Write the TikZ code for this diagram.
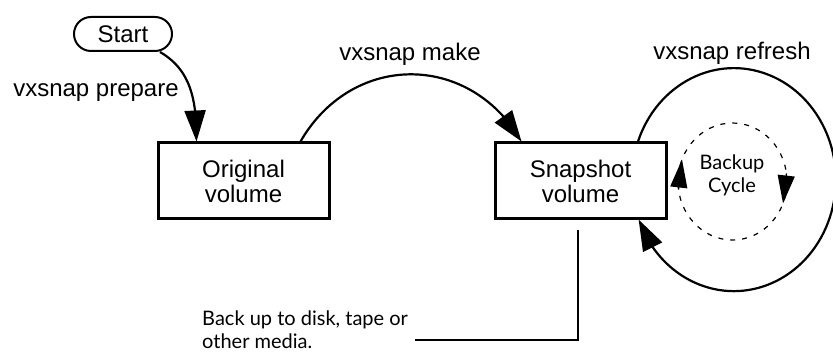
\documentclass[tikz,border=0pt]{standalone}
\usepackage{fontspec}
\setmainfont{Liberation Sans}
\newfontfamily\notefont{Lato}
\usetikzlibrary{
    arrows.meta,
    positioning,
    calc,
    bending
}
\tikzset{
    % --- Volume box (original / snapshot) ---
    volume/.style = {
        rectangle, draw, line width=3pt,
        minimum width=171pt, minimum height=76pt,
        font=\fontsize{24}{25}\selectfont, align=center
    },
    % --- Rounded start terminal ---
    terminal/.style = {
        rectangle, draw, line width=2pt, rounded corners=17pt,
        minimum width=98pt, minimum height=34pt,
        font=\fontsize{24}{26}\selectfont
    },
    % --- Command label ---
    cmd/.style = {
        font=\fontsize{24}{26}\selectfont, inner sep=0pt
    },
    % --- Note text (cycle, media) ---
    note/.style = {
        font=\notefont\fontsize{20}{23}\selectfont,
        align=left, inner sep=0pt
    },
    % --- Command arrow ---
    cmd arrow/.style = {
        -{Triangle[length=31pt, width=21pt]}, line width=2.2pt
    },
    % --- Dashed backup cycle ---
    cycle path/.style = {
        line width=1.2pt, dash pattern=on 5pt off 7pt
    },
    % --- Backup cycle arrow head ---
    cycle tip/.style = {
        -{Triangle[length=28pt, width=17pt]}, line width=1.2pt
    },
    % --- Plain connector line ---
    link/.style = {
        line width=2pt
    }
}

\begin{document}
\begin{tikzpicture}[x=1pt, y=1pt]

\useasboundingbox (0,0) rectangle (833,353);

% ---------------------------------------------------------
% Volumes
% ---------------------------------------------------------
\node[volume] (orig) at (243.5, 172) {Original\\volume};
\node[volume, right=163pt of orig] (snap) {Snapshot\\volume};

% Start terminal
\node[terminal] (start) at (123, 319) {Start};

% ---------------------------------------------------------
% Commands
% ---------------------------------------------------------
\node[cmd] (prepare) at (96, 260.5) {vxsnap prepare};
\node[cmd] (make) at (410, 299) {vxsnap make};
\node[cmd] (refresh) at (732, 299.5) {vxsnap refresh};

\draw[cmd arrow] ([xshift=-13pt]start.south east)
    to[out=-30, in=90] ([xshift=40pt]orig.north west);

\draw[cmd arrow] ([xshift=-30pt]orig.north east)
    to[out=60, in=120, looseness=1.2] ([xshift=28pt]snap.north west);

% refresh loop
\coordinate (loopStart) at ([xshift=-29.5pt]snap.north east);
\draw[cmd arrow] (loopStart)
    arc[start angle=160, end angle=-159, x radius=102, y radius=111.5];

% ---------------------------------------------------------
% Backup cycle
% ---------------------------------------------------------
\node[note, align=center] (cycle) at (732, 178) {Backup\\Cycle};
\coordinate (cycleCenter) at (732.5, 171.5);
\draw[cycle path] (cycleCenter) ellipse[x radius=54.5, y radius=58.5];
\draw[cycle tip] ($(cycleCenter)+(188:54.5 and 58.5)$)
    -- ($(cycleCenter)+(158:54.5 and 58.5)$);
\draw[cycle tip] ($(cycleCenter)+(8:54.5 and 58.5)$)
    -- ($(cycleCenter)+(-22:54.5 and 58.5)$);

% ---------------------------------------------------------
% Backup to media
% ---------------------------------------------------------
\node[note, anchor=west] (media) at (202, 23) {Back up to disk, tape or\\other media.};
\draw[link] ([xshift=-3pt, yshift=-10pt]snap.south)
    |- ([xshift=7pt, yshift=-10pt]media.east);

\end{tikzpicture}
\end{document}
